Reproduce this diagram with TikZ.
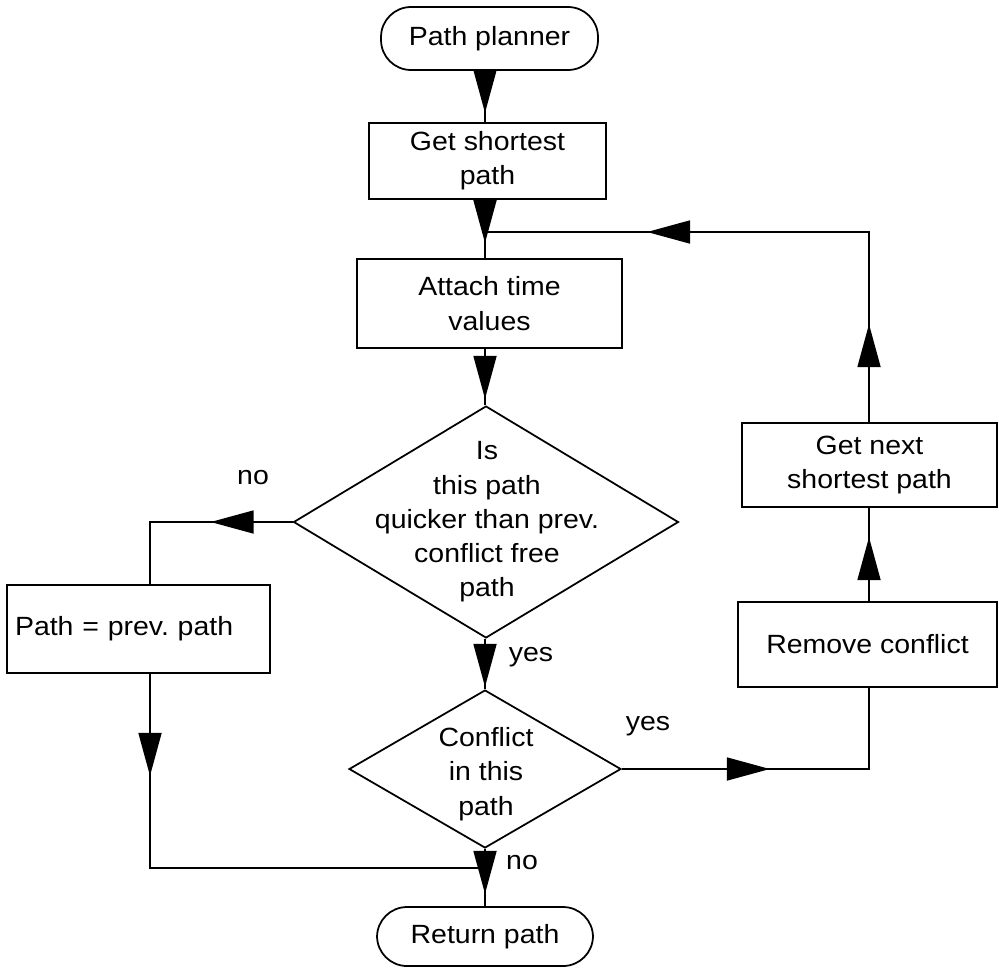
\documentclass[tikz,border=0pt]{standalone}
\usepackage{fontspec}
\setmainfont{Liberation Sans}[FakeStretch=1.08]
\usetikzlibrary{arrows.meta,shapes.geometric,calc}

% a straight connector with its arrowhead set at a given distance from its start
\newcommand\flowline[3]{%
  \draw (#1) -- (#2);
  \draw[-flowtip] (#1) -- ($(#1)!#3!(#2)$);}

\begin{document}
\frenchspacing
\begin{tikzpicture}[x=0.02cm, y=-0.02cm, line width=1pt,
  every node/.style={font=\fontsize{15}{19.5}\selectfont},
  flowtip/.tip={Triangle[length=0.86cm,width=0.46cm]},
  proc/.style={draw, rectangle, inner sep=0pt, align=center},
  term/.style={draw, rectangle, rounded corners=0.6cm, inner sep=0pt},
  decision/.style={draw, diamond, inner sep=0pt},
]
\useasboundingbox (0,0) rectangle (999,970);

% main column and corner points
\coordinate (spine) at (485,0);
\coordinate (fb) at (485,232);
\coordinate (cnl) at (150,522);
\coordinate (join) at (485,868);
\coordinate (cyes) at (869,769);

% nodes
\node[term, minimum width=4.34cm, minimum height=1.26cm] (start) at (489.5,38.5) {Path planner};
\node[proc, minimum width=4.74cm, minimum height=1.52cm] (gsp) at (487.5,161) {Get shortest\\path};
\node[proc, minimum width=5.3cm, minimum height=1.78cm] (att) at (489.5,303.5) {Attach time\\values};
\node[decision, minimum width=7.7cm, minimum height=4.64cm] (d1) at (486,522) {};
\node[align=center] (d1t) at (487,522) {Is\\this path\\quicker than prev.\\conflict free\\path};
\node[decision, minimum width=5.44cm, minimum height=3.16cm] (d2) at (485,769) {};
\node[align=center] (d2t) at (486,774) {Conflict\\in this\\path};
\node[proc, minimum width=5.26cm, minimum height=1.76cm, inner xsep=0.16cm,
      text width=4.94cm, align=left] (pbox) at (138.5,629) {Path = prev. path};
\node[term, minimum width=4.32cm, minimum height=1.18cm] (ret) at (485,936.5) {Return path};
\node[proc, minimum width=5.18cm, minimum height=1.7cm] (rc) at (867.5,644.5) {Remove conflict};
\node[proc, minimum width=5.1cm, minimum height=1.68cm] (gn) at (869.5,465) {Get next\\shortest path};

% branch labels
\node (lno1) at (253,478) {no};
\node (lyes1) at (531,657) {yes};
\node (lyes2) at (648,726) {yes};
\node (lno2) at (522,863) {no};

% end points of the connectors
\coordinate (a1) at (start.south -| spine);
\coordinate (b1) at (gsp.north -| spine);
\coordinate (a2) at (485,200);
\coordinate (t2) at (485,243);
\coordinate (b2) at (att.north -| spine);
\coordinate (a3) at (att.south -| spine);
\coordinate (b3) at (d1.north -| spine);
\coordinate (a4) at (d1.south -| spine);
\coordinate (b5) at (ret.north -| spine);
\coordinate (nlb) at (cnl |- pbox.north);
\coordinate (nla) at (cnl |- pbox.south);
\coordinate (nlj) at (cnl |- join);
\coordinate (yrc) at (cyes |- rc.south);
\coordinate (rcn) at (cyes |- rc.north);
\coordinate (gns) at (cyes |- gn.south);
\coordinate (gnn) at (cyes |- gn.north);
\coordinate (fbc) at (cyes |- fb);

% main column
\flowline{a1}{b1}{0.84cm}
\draw (a2) -- (b2);
\flowline{a3}{b3}{1.0cm}
\flowline{a4}{d2.north}{0.96cm}
\flowline{d2.south}{b5}{0.9cm}

% "no" branch through the left box
\draw (d1.west) -- (cnl) -- (nlb);
\draw[-flowtip] (d1.west) -- ($(d1.west)!1.64cm!(cnl)$);
\draw (nla) -- (nlj) -- (join);
\draw[-flowtip] (nla) -- ($(nla)!2.04cm!(nlj)$);

% "yes" branch and the loop back
\draw (d2.east) -- (cyes) -- (yrc);
\draw[-flowtip] (d2.east) -- ($(d2.east)!2.96cm!(cyes)$);
\flowline{rcn}{gns}{1.28cm}
\draw (gnn) -- (fbc) -- (fb);
\draw[-flowtip] (gnn) -- ($(gnn)!1.96cm!(fbc)$);
\draw[-flowtip] (fbc) -- ($(fbc)!4.44cm!(fb)$);

% arrowhead below the first box
\draw[-{Triangle[length=0.86cm,width=0.46cm]}] (a2) -- (t2);
\end{tikzpicture}
\end{document}
